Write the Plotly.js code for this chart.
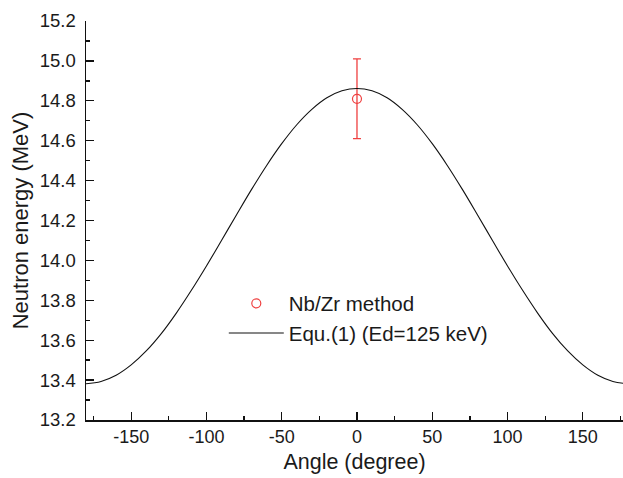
<!DOCTYPE html>
<html>
<head>
<meta charset="utf-8">
<script src="https://cdn.plot.ly/plotly-3.0.1.min.js"></script>
<style>html,body{margin:0;padding:0;background:#fff;}#chart{width:623px;height:478px;}</style>
</head>
<body>
<div id="chart"></div>
<script>
// Curve: Equ.(1) (Ed=125 keV)
var angles = [-180,-170,-160,-150,-140,-130,-120,-110,-100,-90,-80,-70,-60,-50,-40,-30,-20,-10,0,
              10,20,30,40,50,60,70,80,90,100,110,120,130,140,150,160,170,180];
var energies = [13.382,13.393,13.424,13.476,13.546,13.633,13.736,13.850,13.972,14.100,14.229,14.356,14.476,14.585,14.680,14.757,14.815,14.850,14.862,
                14.850,14.815,14.757,14.680,14.585,14.476,14.356,14.229,14.100,13.972,13.850,13.736,13.633,13.546,13.476,13.424,13.393,13.382];

// Measured point: Nb/Zr method
var measAngle = [0];
var measEnergy = [14.81];
var measError = [0.2];

var seriesNames = ['Nb/Zr method', 'Equ.(1) (Ed=125 keV)'];
var xTitle = 'Angle (degree)';
var yTitle = 'Neutron energy (MeV)';

var red = '#ef4040';
var font = 'Liberation Sans, Arial, Helvetica, sans-serif';

var traces = [
  {
    x: measAngle, y: measEnergy, name: seriesNames[0], type: 'scatter', mode: 'markers',
    marker: {symbol: 'circle-open', size: 9, color: red, line: {width: 1.2, color: red}},
    error_y: {type: 'data', array: measError, visible: true, color: red, thickness: 1.3, width: 4}
  },
  {
    x: angles, y: energies, name: seriesNames[1], type: 'scatter', mode: 'lines',
    line: {color: '#111', width: 1.1, shape: 'spline'}
  }
];

var layout = {
  width: 623, height: 478,
  margin: {l: 86, r: 0, t: 21, b: 58},
  paper_bgcolor: '#fff', plot_bgcolor: '#fff',
  font: {family: font, size: 18, color: '#1a1a1a'},
  showlegend: true,
  legend: {
    x: 0.2566, y: 0.342, xanchor: 'left', yanchor: 'top',
    bgcolor: 'rgba(0,0,0,0)', borderwidth: 0,
    font: {family: font, size: 20.5, color: '#1a1a1a'},
    itemwidth: 55, tracegroupgap: 0
  },
  xaxis: {
    range: [-180, 176.7], showgrid: false, zeroline: false,
    showline: true, linecolor: '#111', linewidth: 1.5,
    ticks: 'inside', ticklen: 8, tickwidth: 1.3, tickcolor: '#111',
    tickmode: 'array', tickvals: [-150,-100,-50,0,50,100,150],
    ticktext: ['-150','-100','-50','0','50','100','150'],
    minor: {tickvals: [-175,-125,-75,-25,25,75,125,175], ticks: 'inside', ticklen: 4, tickwidth: 1.3, tickcolor: '#111'},
    tickfont: {size: 18},
    title: {text: xTitle, font: {size: 21.5}, standoff: 8}
  },
  xaxis2: {
    overlaying: 'x', side: 'top', range: [-180, 176.7], showgrid: false, zeroline: false,
    showline: true, linecolor: '#111', linewidth: 1.5,
    ticks: 'inside', ticklen: 3, tickwidth: 1, tickcolor: '#333',
    tick0: 0, dtick: 25, showticklabels: false
  },
  yaxis: {
    range: [13.2, 15.2], showgrid: false, zeroline: false,
    showline: true, linecolor: '#111', linewidth: 1.5,
    ticks: 'inside', ticklen: 8, tickwidth: 1.3, tickcolor: '#111',
    tick0: 13.2, dtick: 0.2, tickformat: '.1f',
    minor: {dtick: 0.1, ticks: 'inside', ticklen: 4, tickwidth: 1.3, tickcolor: '#111'},
    tickfont: {size: 18.5},
    ticklabelstandoff: 5,
    title: {text: yTitle, font: {size: 22}, standoff: 5}
  }
};

Plotly.newPlot('chart', traces, layout, {displayModeBar: false, staticPlot: true});
</script>
</body>
</html>
